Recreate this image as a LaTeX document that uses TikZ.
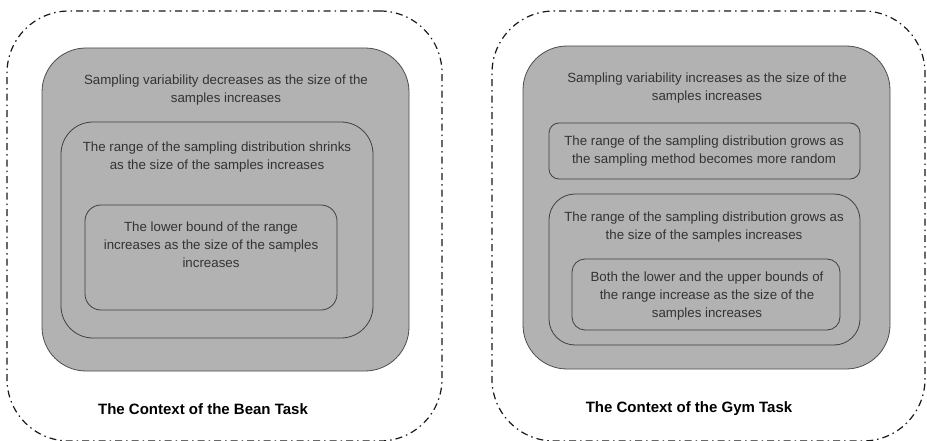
\documentclass[tikz,border=0pt]{standalone}
\usepackage{fontspec}
\setmainfont{Liberation Sans}
\begin{document}
\begin{tikzpicture}[x=1pt,y=-1pt,
  frame/.style={draw=black!90, line width=1.2pt, rounded corners=62pt,
    dash pattern=on 7pt off 4pt on 1.5pt off 4pt, inner sep=0pt, outer sep=0pt},
  graybox/.style={draw=black!70, fill=black!30, line width=0.8pt, inner sep=0pt, outer sep=0pt},
  plainbox/.style={draw=black!75, line width=0.8pt, inner sep=0pt, outer sep=0pt},
  txt/.style={align=center, text=black!80, inner sep=0pt,
    font=\fontsize{13.3}{18}\selectfont},
  ttl/.style={text=black, inner sep=0pt, font=\fontsize{15}{18}\selectfont\bfseries}
]
\useasboundingbox (0,0) rectangle (927,441);

% ---- left panel: the bean task ----
\node[frame, minimum width=435pt, minimum height=430pt] (lframe) at (224.5,226) {};
\node[graybox, rounded corners=44pt, minimum width=367pt, minimum height=323pt] (lgray) at (225.5,209.5) {};
\node[plainbox, rounded corners=32pt, minimum width=312pt, minimum height=216pt] (lmid) at (217,230) {};
\node[plainbox, rounded corners=16pt, minimum width=252pt, minimum height=105pt] (linner) at (211,257.5) {};

\node[txt] (lt1) at (226,90) {Sampling variability decreases as the size of the\\samples increases};
\node[txt] (lt2) at (217,157) {The range of the sampling distribution shrinks\\as the size of the samples increases};
\node[txt] (lt3) at (211,245) {The lower bound of the range\\increases as the size of the samples\\increases};
\node[ttl] (ltitle) at (203,409) {The Context of the Bean Task};

% ---- right panel: the gym task ----
\node[frame, minimum width=433pt, minimum height=430pt] (rframe) at (708.5,226) {};
\node[graybox, rounded corners=44pt, minimum width=367pt, minimum height=323pt] (rgray) at (706.5,207.5) {};
\node[plainbox, rounded corners=10pt, minimum width=311pt, minimum height=56pt] (rbox1) at (704.5,151) {};
\node[plainbox, rounded corners=26pt, minimum width=311pt, minimum height=151pt] (rbox2) at (704.5,269.5) {};
\node[plainbox, rounded corners=13pt, minimum width=268pt, minimum height=71pt] (rbox3) at (706,294.5) {};

\node[txt] (rt1) at (707,88) {Sampling variability increases as the size of the\\samples increases};
\node[txt] (rt2) at (704,151) {The range of the sampling distribution grows as\\the sampling method becomes more random};
\node[txt] (rt3) at (704,227) {The range of the sampling distribution grows as\\the size of the samples increases};
\node[txt] (rt4) at (707,296.5) {Both the lower and the upper bounds of\\the range increase as the size of the\\samples increases};
\node[ttl] (rtitle) at (689,409) {The Context of the Gym Task};
\end{tikzpicture}
\end{document}
